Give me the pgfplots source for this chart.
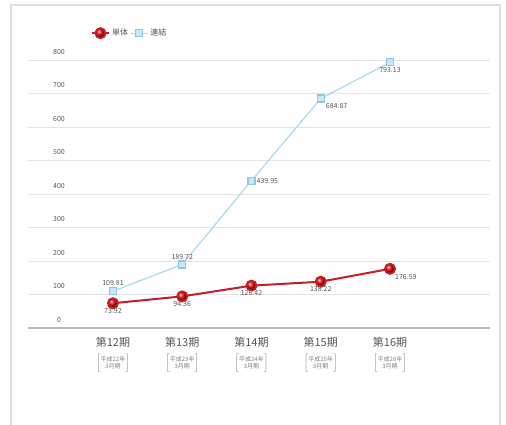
\documentclass[border=0pt]{standalone}
\usepackage{fontspec}
\setmainfont{Noto Sans CJK JP}
\usepackage{pgfplots}
\pgfplotsset{compat=1.18}
\definecolor{redline}{HTML}{C41E2A}
\definecolor{blueline}{HTML}{A9D9EE}
\definecolor{bluemark}{HTML}{8CC8E6}
\definecolor{gridc}{HTML}{E4E4E4}
\definecolor{txt}{HTML}{555555}
\newcommand{\sub}[1]{{\fontsize{6}{7}\selectfont\color{gray}$\left[\begin{tabular}{@{}c@{}}平成#1年\\3月期\end{tabular}\right]$}}

\begin{document}
\begin{tikzpicture}
\useasboundingbox (0pt,0pt) rectangle (506pt,425pt);
\draw[gray!25,line width=1.2pt] (11pt,-5pt) -- (11pt,420pt) -- (500pt,420pt) -- (500pt,-5pt);
\begin{axis}[
  at={(28pt,97pt)}, anchor=south west,
  scale only axis, width=462pt, height=268pt,
  xmin=-1.227, xmax=5.444, ymin=0, ymax=800,
  axis x line*=bottom, axis y line*=left,
  x axis line style={draw=gray!55, line width=1.5pt, -},
  y axis line style={draw=none},
  ytick={0,100,...,800},
  yticklabels={0,100,200,300,400,500,600,700,800},
  ymajorgrids, grid style={gridc, line width=0.8pt},
  major tick length=0pt, tick style={draw=none},
  /pgf/number format/assume math mode=true,
  yticklabel style={font=\fontsize{7}{8}\selectfont, text=txt, anchor=south, xshift=31pt, yshift=2pt},
  xtick={0,1,2,3,4},
  xticklabels={
    第12期\\[6pt]\sub{22},
    第13期\\[6pt]\sub{23},
    第14期\\[6pt]\sub{24},
    第15期\\[6pt]\sub{25},
    第16期\\[6pt]\sub{26}},
  xticklabel style={font=\fontsize{11}{12}\selectfont, text=txt, align=center, yshift=-6pt},
  legend style={at={(0.22,1.10)}, anchor=center, draw=none, fill=none,
    font=\fontsize{8}{9}\selectfont, text=txt},
  legend columns=2,
  clip=false,
  lbl/.style={draw=none, mark=none, forget plot, point meta=y,
    nodes near coords={\pgfmathprintnumber[fixed,precision=2,fixed zerofill]{\pgfplotspointmeta}},
    every node near coord/.append style={font=\fontsize{7}{8}\selectfont, text=txt, anchor=#1, inner sep=5pt}},
]
% legend entries
\addlegendimage{redline, line width=2pt, mark=ball, mark size=5pt, mark options={ball color=red!85!black}}
\addlegendentry{単体\hspace{12pt}}
\addlegendimage{blueline, line width=1.2pt, mark=square*, mark size=3.5pt, mark options={fill=bluemark!45, draw=bluemark}}
\addlegendentry{連結}
% 連結
\addplot[forget plot, blueline, line width=1.2pt, mark=square*, mark size=3.5pt,
  mark options={fill=bluemark!45, draw=bluemark}]
  coordinates {(0,109.81) (1,189.72) (2,439.95) (3,684.87) (4,793.13)};
% 単体
\addplot[forget plot, redline, line width=2pt, mark=ball, mark size=5pt,
  mark options={ball color=red!85!black}]
  coordinates {(0,73.92) (1,94.36) (2,126.42) (3,138.22) (4,176.59)};
% labels
\addplot[lbl=south] coordinates {(0,109.81) (1,189.72)};
\addplot[lbl=west] coordinates {(2,439.95)};
\addplot[lbl=north west] coordinates {(3,684.87)};
\addplot[lbl=north] coordinates {(4,793.13)};
\addplot[lbl=north] coordinates {(0,73.92) (1,94.36) (2,126.42) (3,138.22)};
\addplot[lbl=north west] coordinates {(4,176.59)};
\end{axis}
\end{tikzpicture}
\end{document}
